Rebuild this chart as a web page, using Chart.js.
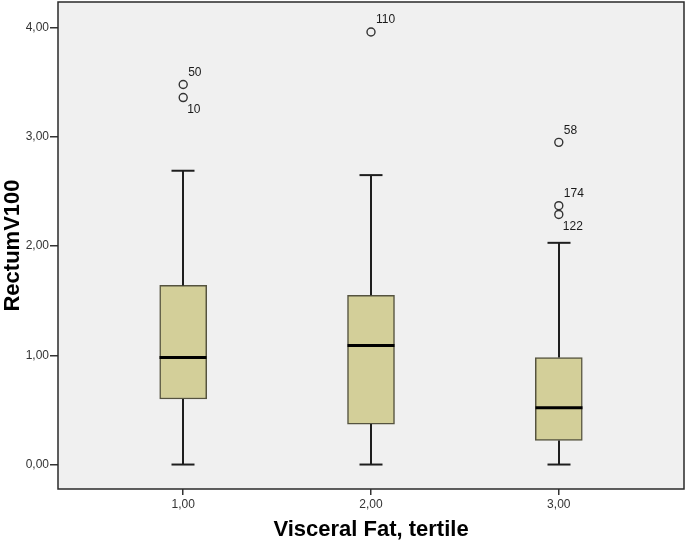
<!DOCTYPE html>
<html><head><meta charset="utf-8">
<script src="https://cdn.jsdelivr.net/npm/chart.js@4/dist/chart.umd.min.js"></script>
<style>html,body{margin:0;padding:0;background:#fff}</style>
</head><body>
<canvas id="c" width="685" height="548"></canvas>
<script>
const categories = [1, 2, 3];
const categoryLabels = ['1,00', '2,00', '3,00'];
const lowerWhisker = [0, 0, 0];
const q1 = [0.60, 0.37, 0.22];
const median = [0.98, 1.09, 0.52];
const q3 = [1.64, 1.55, 0.98];
const upperWhisker = [2.69, 2.65, 2.03];
const outlierGroup = [1, 1, 2, 3, 3, 3];
const outlierValue = [3.48, 3.36, 3.96, 2.95, 2.37, 2.29];
const outlierId = ['50', '10', '110', '58', '174', '122'];
const outlierLabelSide = ['above', 'below', 'above', 'above', 'above', 'below'];
const yTicks = [0, 1, 2, 3, 4];

const boxExtras = {
  id: 'boxExtras',
  beforeDraw(chart) {
    const { ctx, chartArea: a } = chart;
    ctx.save();
    ctx.fillStyle = '#f0f0f0';
    ctx.fillRect(a.left, a.top, a.right - a.left, a.bottom - a.top);
    ctx.restore();
  },
  afterDatasetsDraw(chart) {
    const { ctx } = chart;
    const xs = chart.scales.x, ys = chart.scales.y;
    const capHalf = 11.5, boxHalf = 23.5;
    const line = (x1, y1, x2, y2) => { ctx.beginPath(); ctx.moveTo(x1, y1); ctx.lineTo(x2, y2); ctx.stroke(); };
    ctx.save();
    categories.forEach((c, i) => {
      const px = Math.round(xs.getPixelForValue(c));
      const yUW = ys.getPixelForValue(upperWhisker[i]);
      const yQ3 = ys.getPixelForValue(q3[i]);
      const yQ1 = ys.getPixelForValue(q1[i]);
      const yLW = ys.getPixelForValue(lowerWhisker[i]);
      const yM = ys.getPixelForValue(median[i]);
      ctx.strokeStyle = '#1e1e1e';
      ctx.lineWidth = 2;
      line(px, yQ3, px, yUW);
      line(px - capHalf, yUW, px + capHalf, yUW);
      line(px, yQ1, px, yLW);
      line(px - capHalf, yLW, px + capHalf, yLW);
      ctx.strokeStyle = '#000';
      ctx.lineWidth = 3;
      line(px - boxHalf, yM, px + boxHalf, yM);
    });
    ctx.fillStyle = '#1a1a1a';
    ctx.font = '12px "Liberation Sans", Arial, sans-serif';
    ctx.textAlign = 'left';
    ctx.textBaseline = 'middle';
    outlierId.forEach((id, i) => {
      const px = xs.getPixelForValue(outlierGroup[i]);
      const py = ys.getPixelForValue(outlierValue[i]);
      if (outlierLabelSide[i] === 'above') ctx.fillText(id, px + 5, py - 12);
      else ctx.fillText(id, px + 4, py + 12);
    });
    ctx.restore();
  },
  afterDraw(chart) {
    const { ctx, chartArea: a } = chart;
    ctx.save();
    ctx.strokeStyle = '#2a2a2a';
    ctx.lineWidth = 1.5;
    ctx.strokeRect(a.left, a.top, a.right - a.left, a.bottom - a.top);
    ctx.restore();
  }
};

new Chart(document.getElementById('c'), {
  type: 'bar',
  data: {
    datasets: [
      {
        type: 'bar',
        data: categories.map((c, i) => ({ x: c, y: [q1[i], q3[i]] })),
        backgroundColor: '#d3cf99',
        borderColor: '#55533f',
        borderWidth: 1.5,
        borderSkipped: false,
        barThickness: 47
      },
      {
        type: 'scatter',
        data: outlierValue.map((v, i) => ({ x: outlierGroup[i], y: v })),
        pointRadius: 4,
        pointBorderColor: '#333',
        pointBorderWidth: 1.4,
        pointBackgroundColor: 'rgba(0,0,0,0)',
        showLine: false
      }
    ]
  },
  options: {
    responsive: false,
    animation: false,
    events: [],
    layout: { autoPadding: false, padding: { top: 2, right: 1, left: 0, bottom: 0 } },
    plugins: { legend: { display: false }, tooltip: { enabled: false } },
    scales: {
      x: {
        type: 'linear',
        min: 1 / 3,
        max: 11 / 3,
        offset: false,
        afterBuildTicks: s => { s.ticks = categories.map(v => ({ value: v })); },
        afterFit: s => { s.height = 59; s.paddingLeft = 0; s.paddingRight = 0; },
        ticks: {
          callback: v => categoryLabels[categories.indexOf(v)],
          font: { size: 12, family: '"Liberation Sans", Arial, sans-serif' },
          color: '#333',
          padding: 2,
          maxRotation: 0
        },
        grid: { display: true, offset: false, drawOnChartArea: false, drawTicks: true, tickLength: 6, color: '#333', lineWidth: 1.5 },
        border: { display: false },
        title: {
          display: true,
          text: 'Visceral Fat, tertile',
          font: { size: 22, weight: 'bold', family: '"Liberation Sans", Arial, sans-serif' },
          color: '#000',
          padding: { top: 0, bottom: 5 }
        }
      },
      y: {
        min: -0.224,
        max: 4.235,
        afterBuildTicks: s => { s.ticks = yTicks.map(v => ({ value: v })); },
        afterFit: s => { s.width = 58; s.paddingTop = 0; s.paddingBottom = 0; },
        ticks: {
          callback: v => v.toFixed(2).replace('.', ','),
          font: { size: 12, family: '"Liberation Sans", Arial, sans-serif' },
          color: '#333',
          padding: 1
        },
        grid: { display: true, drawOnChartArea: false, drawTicks: true, tickLength: 8, color: '#333', lineWidth: 1.5 },
        border: { display: false },
        title: {
          display: true,
          text: 'RectumV100',
          font: { size: 22, weight: 'bold', family: '"Liberation Sans", Arial, sans-serif' },
          color: '#000',
          padding: { top: 0, bottom: 0 }
        }
      }
    }
  },
  plugins: [boxExtras]
});
</script>
</body></html>
